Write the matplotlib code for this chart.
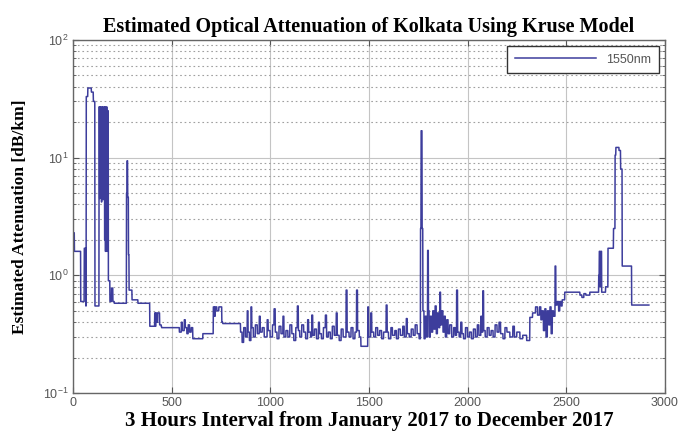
import numpy as np
import matplotlib.pyplot as plt
from matplotlib.ticker import LogLocator, FixedLocator, NullFormatter

# step segments: index where each level starts, and the attenuation level [dB/km]
seg_start = [
    0, 8, 40, 58, 66, 68, 76, 94, 104, 112,
    133, 136, 139, 141, 143, 145, 147, 149, 151, 153, 155, 157, 159, 161, 163, 165, 167, 169, 171, 173, 175, 180, 188,
    196, 203, 210, 272, 275, 278, 282, 285, 300, 330,
    390, 415, 418, 421, 425, 430, 440, 448, 450,
    540, 550, 555, 565, 570, 578, 585, 592, 600, 608, 659,
    712, 718, 722, 730, 740, 755, 760,
    850, 858, 866, 875, 884, 888, 895, 903, 907, 915, 925, 935, 945, 950, 960, 970, 985, 990,
    1000, 1012, 1020, 1026, 1035, 1045, 1055, 1065, 1070, 1080, 1090, 1100, 1110, 1120, 1130, 1138, 1143,
    1150, 1160, 1170, 1180, 1190, 1195, 1205, 1211, 1216, 1225, 1235, 1245, 1250, 1260, 1270, 1280, 1286,
    1295, 1305, 1315, 1325, 1335, 1340, 1350, 1360, 1370, 1385, 1390, 1400, 1410, 1420, 1430, 1438, 1443,
    1452, 1460, 1495, 1499, 1510, 1515, 1525, 1535, 1545, 1555, 1565, 1575, 1588, 1593,
    1600, 1612, 1620, 1632, 1640, 1650, 1660, 1672, 1680, 1690, 1695, 1705, 1715, 1725, 1735, 1745, 1755,
    1762, 1765, 1770, 1774, 1780, 1786, 1792, 1798, 1802, 1806, 1812, 1818, 1824, 1830, 1836, 1842, 1848,
    1855, 1860, 1864, 1870, 1876, 1882, 1888, 1895, 1902, 1910, 1920, 1930, 1938, 1945, 1950, 1958, 1966,
    1972, 1980, 1990, 2000, 2010, 2020, 2030, 2040, 2050, 2058, 2068, 2072, 2078, 2082, 2090, 2100, 2110,
    2120, 2130, 2140, 2150, 2160, 2168, 2180, 2190, 2200, 2215, 2230, 2238, 2250, 2266, 2280, 2300, 2316,
    2330, 2345, 2355, 2365, 2372, 2378, 2385, 2392, 2398, 2405, 2412, 2418, 2424, 2430, 2436, 2444, 2448,
    2455, 2462, 2468, 2475, 2480, 2493, 2570, 2580, 2590, 2600, 2620, 2665, 2668, 2672, 2676, 2680, 2700,
    2712, 2740, 2748, 2752, 2756, 2768, 2776, 2784, 2832,
]
seg_val = [
    2.3, 1.6, 0.6, 1.7, 0.55, 33, 39, 36, 30, 0.55,
    27, 4.5, 27, 5.0, 26, 4.2, 27, 4.8, 27, 4.4, 26, 4.6, 27, 2.0, 27, 1.6, 26, 1.8, 27, 1.6, 25, 0.9, 0.6,
    0.78, 0.6, 0.58, 5.0, 9.4, 4.6, 1.5, 0.75, 0.62, 0.58,
    0.37, 0.48, 0.37, 0.48, 0.40, 0.48, 0.38, 0.37, 0.36,
    0.33, 0.40, 0.34, 0.42, 0.36, 0.32, 0.38, 0.33, 0.36, 0.29, 0.32,
    0.54, 0.45, 0.54, 0.50, 0.54, 0.40, 0.39,
    0.33, 0.27, 0.36, 0.30, 0.50, 0.33, 0.28, 0.54, 0.36, 0.30, 0.38, 0.32, 0.45, 0.33, 0.36, 0.30, 0.42, 0.34,
    0.30, 0.38, 0.52, 0.33, 0.29, 0.37, 0.32, 0.45, 0.30, 0.34, 0.30, 0.38, 0.32, 0.28, 0.36, 0.55, 0.34,
    0.30, 0.38, 0.33, 0.29, 0.42, 0.33, 0.30, 0.46, 0.31, 0.35, 0.29, 0.40, 0.32, 0.29, 0.36, 0.46, 0.30,
    0.33, 0.29, 0.37, 0.31, 0.48, 0.31, 0.28, 0.35, 0.30, 0.75, 0.33, 0.30, 0.36, 0.29, 0.33, 0.75, 0.34,
    0.30, 0.25, 0.54, 0.30, 0.48, 0.33, 0.30, 0.36, 0.31, 0.34, 0.29, 0.33, 0.56, 0.33,
    0.29, 0.36, 0.31, 0.34, 0.29, 0.35, 0.31, 0.37, 0.30, 0.43, 0.32, 0.30, 0.35, 0.31, 0.38, 0.32, 0.29,
    2.5, 16.9, 2.5, 0.50, 0.29, 0.45, 0.30, 1.63, 0.50, 0.30, 0.45, 0.33, 0.50, 0.35, 0.55, 0.32, 0.48,
    0.36, 0.72, 0.38, 0.50, 0.33, 0.45, 0.30, 0.42, 0.32, 0.38, 0.30, 0.36, 0.31, 0.75, 0.33, 0.30, 0.40,
    0.32, 0.29, 0.36, 0.30, 0.33, 0.29, 0.35, 0.30, 0.38, 0.31, 0.45, 0.33, 0.74, 0.34, 0.30, 0.36, 0.31,
    0.34, 0.30, 0.38, 0.33, 0.40, 0.32, 0.29, 0.36, 0.33, 0.30, 0.37, 0.30, 0.33, 0.29, 0.31, 0.28, 0.44,
    0.48, 0.54, 0.46, 0.54, 0.42, 0.50, 0.34, 0.52, 0.30, 0.50, 0.38, 0.54, 0.32, 0.50, 0.45, 1.2, 0.56,
    0.60, 0.50, 0.60, 0.55, 0.62, 0.72, 0.68, 0.65, 0.70, 0.68, 0.72, 1.0, 1.6, 0.8, 1.6, 0.72, 0.80,
    1.7, 2.5, 10.5, 12.2, 12.2, 11.5, 8.0, 1.2, 0.56,
]
n_points = 2920

lengths = np.diff(seg_start + [n_points])
att = np.repeat(seg_val, lengths)
t = np.arange(n_points)

plt.rcParams['font.family'] = 'Liberation Sans'
fig = plt.figure(figsize=(6.94, 4.33), dpi=100)
ax = fig.add_axes([0.105, 0.092, 0.853, 0.816])

ax.semilogy(t, att, '-', color='#3d3d9c', linewidth=1.1, label='1550nm')
ax.set_xlim(0, 3000)
ax.set_ylim(0.1, 100)
ax.set_xticks(np.arange(0, 3001, 500))
ax.xaxis.set_minor_locator(FixedLocator([]))
ax.yaxis.set_major_locator(LogLocator(base=10))
ax.yaxis.set_minor_locator(LogLocator(base=10, subs=np.arange(2, 10)))
ax.yaxis.set_minor_formatter(NullFormatter())

ax.grid(True, which='major', color='#c4c4c4', linestyle='-', linewidth=0.8)
ax.grid(True, which='minor', axis='y', color='#a0a0a0', linestyle=(0, (1.5, 2.5)), linewidth=0.8)
ax.tick_params(which='both', direction='in', top=True, right=True, colors='#555555', labelsize=9)
ax.tick_params(which='major', length=4, pad=3)
ax.tick_params(which='minor', length=2)
for sp in ax.spines.values():
    sp.set_color('#666666')
    sp.set_linewidth(1.0)

ax.set_title('Estimated Optical Attenuation of Kolkata Using Kruse Model',
             fontfamily='Liberation Serif', fontweight='bold', fontsize=14.5, pad=6)
ax.set_xlabel('3 Hours Interval from January 2017 to December 2017',
              fontfamily='Liberation Serif', fontweight='bold', fontsize=15, labelpad=1)
ax.set_ylabel('Estimated Attenuation [dB/km]',
              fontfamily='Liberation Serif', fontweight='bold', fontsize=12.5, labelpad=11)

leg = ax.legend(loc='upper right', fontsize=9, fancybox=False, framealpha=1,
                edgecolor='#333333', handlelength=6.5, borderpad=0.6,
                borderaxespad=0.5)
leg.get_frame().set_linewidth(1.0)
for txt in leg.get_texts():
    txt.set_color('#555555')

plt.savefig('out.png', dpi=100)
plt.close()
